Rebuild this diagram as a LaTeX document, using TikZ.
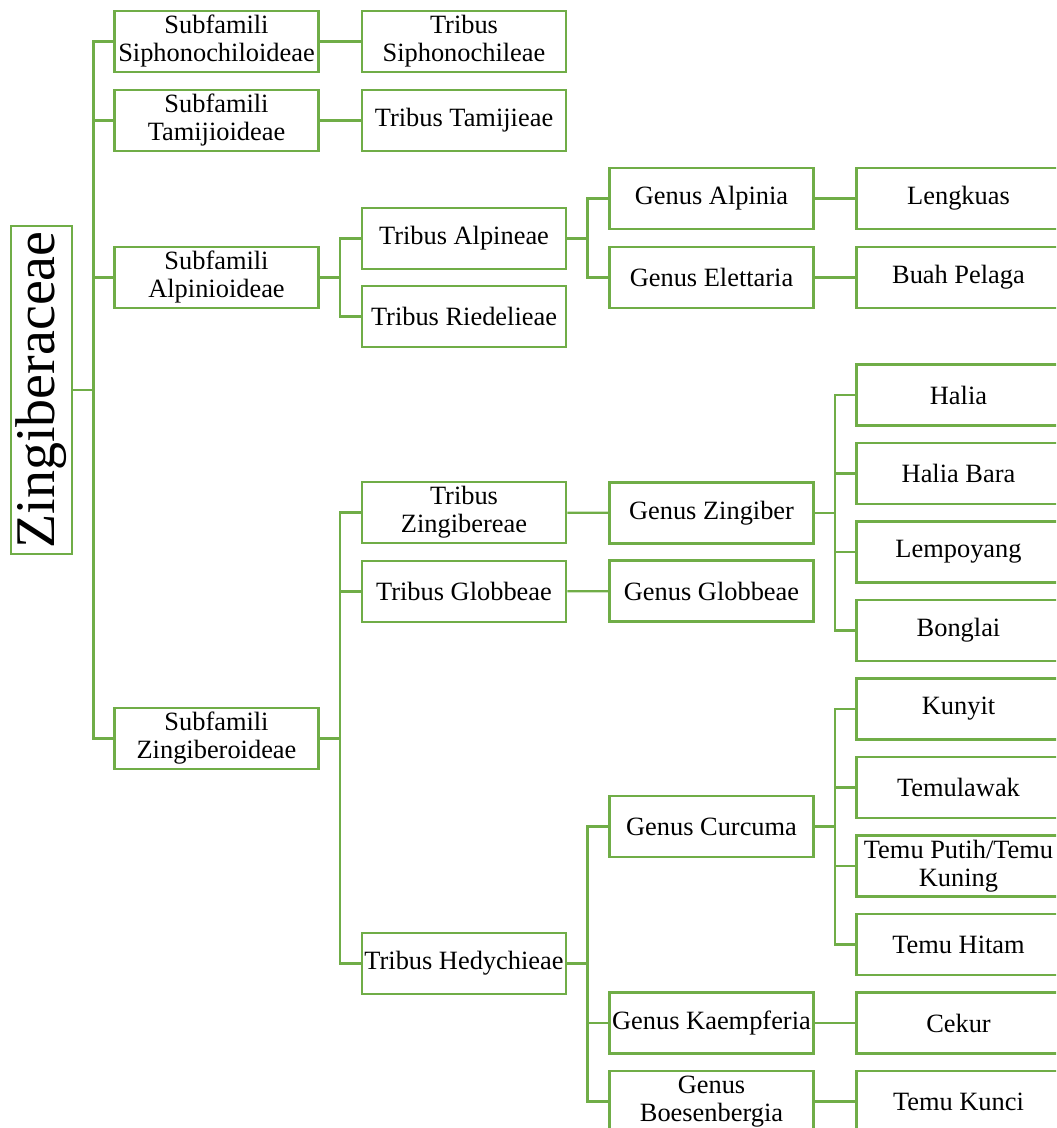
\documentclass[tikz,border=0pt]{standalone}
\usepackage{fontspec}
\setmainfont{Liberation Serif}
\usepackage{graphicx}
\usepackage{tikz}
\definecolor{leaf}{HTML}{70AD47}

\begin{document}
\begin{tikzpicture}[x=0.5pt,y=-0.5pt]
\tikzstyle{box}=[draw=leaf,line width=1.4pt,minimum width=102pt,minimum height=30.5pt,inner sep=1pt,align=center,font=\fontsize{13.2}{14}\selectfont]
\tikzstyle{link}=[draw=leaf,line width=1.2pt]
\useasboundingbox (0,0) rectangle (1056,1128);
\clip (0,0) rectangle (1056,1128);
\node[box,minimum width=30.5pt,minimum height=164pt,font=\fontsize{28}{30}\selectfont] (root) at (41.5,390) {\rotatebox{90}{Zingiberaceae}};
\node[box] (siphono) at (216.5,41.5) {Subfamili\\Siphonochiloideae};
\node[box] (tamijio) at (216.5,120.5) {Subfamili\\Tamijioideae};
\node[box] (alpinio) at (216.5,277.5) {Subfamili\\Alpinioideae};
\node[box] (zingibero) at (216.5,738.5) {Subfamili\\Zingiberoideae};
\node[box] (siphonochil) at (464,41.5) {Tribus\\Siphonochileae};
\node[box] (tamijie) at (464,120.5) {Tribus Tamijieae};
\node[box] (alpine) at (464,238.5) {Tribus Alpineae};
\node[box] (riedelie) at (464,316.5) {Tribus Riedelieae};
\node[box] (zingiberea) at (464,512.5) {Tribus\\Zingibereae};
\node[box] (globbea) at (464,591.5) {Tribus Globbeae};
\node[box] (hedychie) at (464,963.5) {Tribus Hedychieae};
\node[box] (alpinia) at (711.5,198.5) {Genus Alpinia};
\node[box] (elettaria) at (711.5,277.5) {Genus Elettaria};
\node[box] (zingiber) at (711.5,513) {Genus Zingiber};
\node[box] (globba) at (711.5,591) {Genus Globbeae};
\node[box] (curcuma) at (711.5,826.5) {Genus Curcuma};
\node[box] (kaempferia) at (711.5,1023) {Genus Kaempferia};
\node[box] (boesenbergia) at (711.5,1101.5) {Genus\\Boesenbergia};
\node[box] (lengkuas) at (958.5,198.5) {Lengkuas};
\node[box] (pelaga) at (958.5,277.5) {Buah Pelaga};
\node[box] (halia) at (958.5,395) {Halia};
\node[box] (bara) at (958.5,473.5) {Halia Bara};
\node[box] (lempoyang) at (958.5,552) {Lempoyang};
\node[box] (bonglai) at (958.5,630.5) {Bonglai};
\node[box] (kunyit) at (958.5,709) {Kunyit};
\node[box] (temulawak) at (958.5,787.5) {Temulawak};
\node[box] (putih) at (958.5,866) {Temu Putih/Temu\\Kuning};
\node[box] (hitam) at (958.5,944.5) {Temu Hitam};
\node[box] (cekur) at (958.5,1023) {Cekur};
\node[box] (kunci) at (958.5,1101.5) {Temu Kunci};
\foreach \s in {siphono,tamijio,alpinio,zingibero}
  \draw[link] (root.east) -- ++(20,0) |- (\s.west);
\draw[link] (siphono) -- (siphonochil);
\draw[link] (tamijio) -- (tamijie);
\foreach \t in {alpine,riedelie}
  \draw[link] (alpinio.east) -- ++(20,0) |- (\t.west);
\foreach \t in {zingiberea,globbea,hedychie}
  \draw[link] (zingibero.east) -- ++(20,0) |- (\t.west);
\foreach \g in {alpinia,elettaria}
  \draw[link] (alpine.east) -- ++(20,0) |- (\g.west);
\draw[link] (zingiberea) -- (zingiber);
\draw[link] (globbea) -- (globba);
\foreach \g in {curcuma,kaempferia,boesenbergia}
  \draw[link] (hedychie.east) -- ++(20,0) |- (\g.west);
\draw[link] (alpinia) -- (lengkuas);
\draw[link] (elettaria) -- (pelaga);
\foreach \p in {halia,bara,lempoyang,bonglai}
  \draw[link] (zingiber.east) -- ++(20,0) |- (\p.west);
\foreach \p in {kunyit,temulawak,putih,hitam}
  \draw[link] (curcuma.east) -- ++(20,0) |- (\p.west);
\draw[link] (kaempferia) -- (cekur);
\draw[link] (boesenbergia) -- (kunci);
\end{tikzpicture}
\end{document}
